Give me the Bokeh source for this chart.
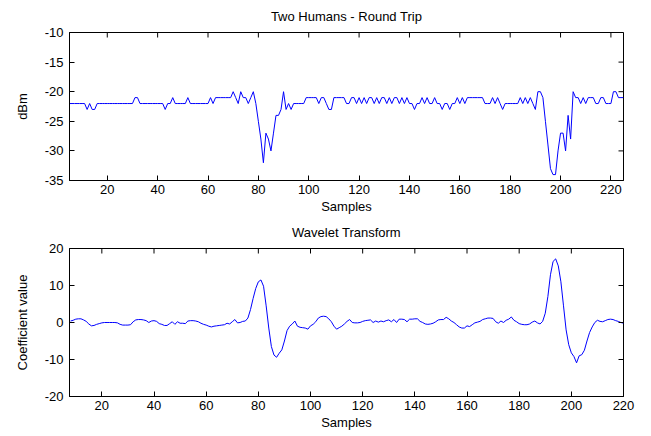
import math
from bokeh.plotting import figure
from bokeh.layouts import column
from bokeh.models import Range1d, FixedTicker
from bokeh.embed import file_html
from bokeh.resources import INLINE

# ---- data ----
rssi_start = 5
rssi_dbm = [
    -22, -22, -22, -22, -22, -22, -22,            # 5-11
    -23, -22, -23, -23,                           # 12-15
    -22, -22, -22, -22, -22, -22, -22, -22, -22, -22, -22, -22, -22, -22, -22,  # 16-30
    -21, -21,                                     # 31-32
    -22, -22, -22, -22, -22, -22, -22, -22, -22, -22,  # 33-42
    -23, -22, -22, -21, -22,                      # 43-47
    -22, -22, -22, -22,                           # 48-51
    -21,                                          # 52
    -22, -22, -22, -22, -22, -22, -22, -22,       # 53-60
    -21, -22,                                     # 61-62
    -21, -21, -21, -21, -21, -21, -21,            # 63-69
    -20, -21, -22, -20, -21, -21, -22, -21, -20,  # 70-78
    -22, -25, -28, -32, -27, -28, -30, -27, -24, -24, -23,  # 79-89
    -20, -23, -22, -23,                           # 90-93
    -22, -22, -22, -22, -22,                      # 94-98
    -21, -21, -21, -21, -21,                      # 99-103
    -22, -21, -21, -22, -23, -23,                 # 104-109
    -21, -21, -21, -21, -21,                      # 110-114
    -22, -22, -21, -21, -22,                      # 115-119
    -21, -22, -21, -22, -21, -21, -22, -21, -22, -21,  # 120-129
    -21, -22, -21, -22, -21, -21, -22, -21, -22, -21,  # 130-139
    -22, -22, -23, -22, -22, -21, -22, -21, -22, -22,  # 140-149
    -21, -22, -22, -23, -22, -22, -23, -22, -22, -21,  # 150-159
    -22, -21, -22, -21, -21, -21, -21, -21, -21, -21,  # 160-169
    -22, -22, -22, -21, -22, -21, -22, -23, -22, -22,  # 170-179
    -22, -22, -22, -22, -21, -22, -21, -22, -21, -22,  # 180-189
    -23, -20, -20, -21, -25, -29, -33, -34, -34, -30,  # 190-199
    -27, -27, -30, -24, -28, -20, -21, -21, -22, -21,  # 200-209
    -22, -21, -21, -21, -22, -22, -21, -21, -22, -22,  # 210-219
    -22, -20, -20, -21, -21, -21,                 # 220-225
]
rssi_samples = list(range(rssi_start, rssi_start + len(rssi_dbm)))

wav_start = 8
wavelet_coef = [
    0.4, 0.6, 0.9, 1.0, 1.0, 0.7, 0.3, -0.4, -0.9, -0.8, -0.5, -0.3,   # 8-19
    -0.1, 0.0, 0.0, 0.0, 0.0, 0.0, -0.1, -0.5, -0.7, -0.7,             # 20-29
    -0.7, -0.6, 0.2, 0.7, 0.8, 0.8, 0.7, 0.5, 0.0, 0.4,                # 30-39
    0.5, 0.3, -0.3, -0.5, -0.8, -0.8, -0.3, 0.2, -0.5, 0.2,            # 40-49
    -0.2, -0.2, -0.3, 0.4, 0.5, 0.5, 0.4, 0.2, -0.2, -0.5,             # 50-59
    -0.7, -1.0, -1.2, -1.0, -0.9, -0.8, -0.7, -0.6, -0.2, -0.4,        # 60-69
    0.2, 0.8, -0.1, 0.0, 0.3, 0.4, 1.2, 3.5, 6.5, 9.2,                 # 70-79
    11.0, 11.5, 9.8, 4.5, -1.5, -6.5, -8.8, -9.4, -8.3, -7.4,          # 80-89
    -5.0, -2.2, -1.0, -0.4, 0.4, -1.0, -1.3, -1.4, -1.5, -1.8,         # 90-99
    -0.9, -0.5, 0.2, 1.2, 1.6, 1.7, 1.6, 1.0, 0.2, -1.0,               # 100-109
    -1.8, -1.4, -1.0, -0.4, 0.3, 0.8, 0.0, -0.1, -0.1, 0.0,            # 110-119
    0.3, 0.5, 0.6, 0.7, 0.0, 0.4, 0.1, 0.4, 0.2, 0.5,                  # 120-129
    0.7, 0.2, 0.8, 0.0, 0.9, 0.9, 0.8, 0.2, 0.9, 0.9,                  # 130-139
    1.0, 1.0, 0.3, 0.0, -0.4, -0.5, -0.4, -0.2, 0.2, 0.7,              # 140-149
    0.8, 0.8, 1.4, 1.0, 0.4, 0.0, -0.6, -1.2, -1.5, -1.5,              # 150-159
    -0.9, -1.1, -0.6, -0.1, 0.1, 0.3, 0.8, 1.0, 1.2, 1.2,              # 160-169
    1.1, 0.2, -0.2, 0.4, 0.0, 0.6, 0.9, 1.5, 0.6, 0.2,                 # 170-179
    -0.3, -0.5, -0.6, -0.6, -0.4, 0.1, 0.4, -0.1, -0.4, 0.3,           # 180-189
    2.5, 7.0, 12.9, 16.5, 17.2, 15.3, 11.0, 4.5, -2.0, -6.0,           # 190-199
    -8.2, -9.2, -10.9, -9.0, -8.7, -7.5, -5.0, -2.7, -1.2, 0.0,        # 200-209
    0.6, 0.3, 0.2, 0.5, 0.8, 0.9, 0.8, 0.5, 0.3, 0.0,                  # 210-219
    -0.2,                                                             # 220
]
wav_samples = list(range(wav_start, wav_start + len(wavelet_coef)))

x_ticks = [20, 40, 60, 80, 100, 120, 140, 160, 180, 200, 220]
top_y_ticks = [-35, -30, -25, -20, -15, -10]
bot_y_ticks = [-20, -10, 0, 10, 20]

FONT = "Liberation Sans"
FS = "13px"


def style(p, xt, yt):
    p.outline_line_color = "black"
    p.outline_line_width = 1
    p.outline_line_alpha = 1
    p.xgrid.visible = False
    p.ygrid.visible = False
    p.background_fill_color = "white"
    p.border_fill_color = "white"
    p.title.text_font = FONT
    p.title.text_font_size = FS
    p.title.text_font_style = "normal"
    p.title.text_color = "black"
    p.title.align = "center"
    p.title.vertical_align = "top"
    p.title.standoff = 14
    for ax in p.xaxis + p.yaxis:
        ax.major_tick_in = 5
        ax.major_tick_out = 0
        ax.minor_tick_line_color = None
        ax.axis_line_color = "black"
        ax.major_tick_line_color = "black"
        ax.major_label_text_font = FONT
        ax.major_label_text_font_size = FS
        ax.major_label_text_color = "black"
        ax.axis_label_text_font = FONT
        ax.axis_label_text_font_size = FS
        ax.axis_label_text_font_style = "normal"
        ax.axis_label_text_color = "black"
    p.xaxis.ticker = FixedTicker(ticks=xt)
    p.yaxis.ticker = FixedTicker(ticks=yt)
    p.xaxis.major_label_overrides = {t: str(t) for t in xt}
    p.yaxis.major_label_overrides = {t: str(t) for t in yt}
    p.xaxis.major_label_standoff = 4
    p.yaxis.major_label_standoff = 6
    p.xaxis.axis_label_standoff = 2
    p.yaxis.axis_label_standoff = 12
    # mirrored inward ticks on the top and right edges (clipped to the frame)
    xr, yr = p.x_range, p.y_range
    p.scatter(xt, [yr.end] * len(xt), marker="dash", angle=math.pi / 2, size=10,
              line_color="black", line_width=1)
    p.scatter([xr.end] * len(yt), yt, marker="dash", size=10,
              line_color="black", line_width=1)


p1 = figure(width=640, height=216, output_backend="svg", toolbar_location=None,
            title="Two Humans - Round Trip",
            x_range=Range1d(5, 225), y_range=Range1d(-35, -10),
            min_border_left=69, min_border_right=17, min_border_top=32, min_border_bottom=36)
p1.line(rssi_samples, rssi_dbm, line_color="#0000ff", line_width=1)
p1.xaxis.axis_label = "Samples"
p1.yaxis.axis_label = "dBm"
style(p1, x_ticks, top_y_ticks)

p2 = figure(width=640, height=220, output_backend="svg", toolbar_location=None,
            title="Wavelet Transform",
            x_range=Range1d(7.6, 220), y_range=Range1d(-20, 20),
            min_border_left=69, min_border_right=16, min_border_top=32, min_border_bottom=40)
p2.line(wav_samples, wavelet_coef, line_color="#0000ff", line_width=1)
p2.xaxis.axis_label = "Samples"
p2.yaxis.axis_label = "Coefficient value"
style(p2, x_ticks, bot_y_ticks)

layout = column(p1, p2, spacing=0)
open("out.html", "w").write(file_html(layout, INLINE))
